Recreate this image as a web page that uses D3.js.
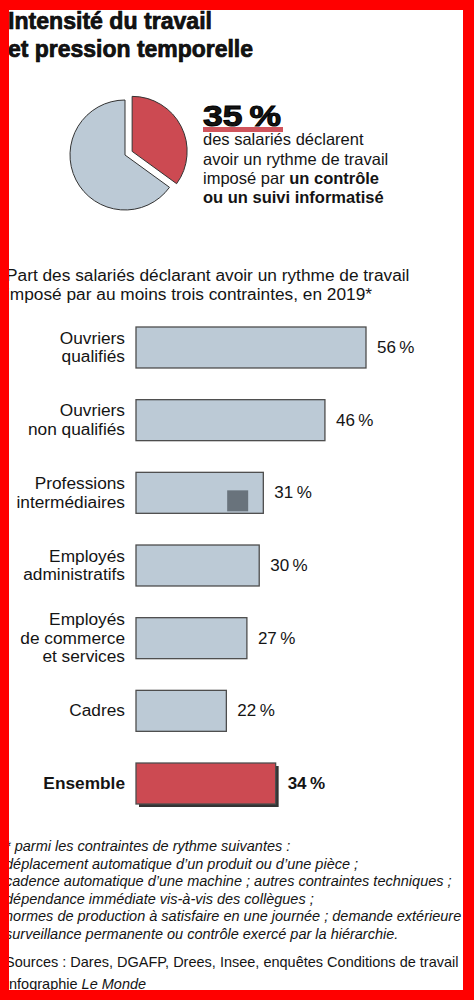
<!DOCTYPE html>
<html>
<head>
<meta charset="utf-8">
<script src="https://cdn.jsdelivr.net/npm/d3@7"></script>
<style>
  html, body { margin: 0; padding: 0; background: #fff; }
  svg { display: block; }
  text { font-family: "Liberation Sans", Arial, sans-serif; fill: #141414; }
</style>
</head>
<body>
<div id="chart"></div>
<script>
// chart data
const categories = ["Ouvriers qualifiés", "Ouvriers non qualifiés", "Professions intermédiaires",
  "Employés administratifs", "Employés de commerce et services", "Cadres", "Ensemble"]
const labelLines = [["Ouvriers", "qualifiés"], ["Ouvriers", "non qualifiés"], ["Professions", "intermédiaires"],
  ["Employés", "administratifs"], ["Employés", "de commerce", "et services"], ["Cadres"], ["Ensemble"]]
const values = [56, 46, 31, 30, 27, 22, 34]
const pieValues = [35, 65]

const titleLines = ["Intensité du travail", "et pression temporelle"]
const subtitleLines = ["Part des salariés déclarant avoir un rythme de travail",
  "imposé par au moins trois contraintes, en 2019*"]
const footnoteLines = [
  "* parmi les contraintes de rythme suivantes :",
  "déplacement automatique d’un produit ou d’une pièce ;",
  "cadence automatique d’une machine ; autres contraintes techniques ;",
  "dépendance immédiate vis-à-vis des collègues ;",
  "normes de production à satisfaire en une journée ; demande extérieure ;",
  "surveillance permanente ou contrôle exercé par la hiérarchie."
]

const width = 474, height = 1000
const red = "#cc4a52", grey = "#bccad6", edge = "#4d4d4d"

const svg = d3.select("#chart").append("svg")
  .attr("width", width)
  .attr("height", height)

svg.append("rect").attr("width", width).attr("height", height).attr("fill", "#fff")

// title
svg.append("g")
  .selectAll("text")
  .data(titleLines)
  .join("text")
  .attr("x", 8)
  .attr("y", (d, i) => 29 + i * 28)
  .attr("font-size", 24)
  .attr("font-weight", 700)
  .attr("fill", "#000")
  .attr("stroke", "#000")
  .attr("stroke-width", 0.7)
  .attr("textLength", (d, i) => i === 0 ? 204 : 245)
  .attr("lengthAdjust", "spacingAndGlyphs")
  .text(d => d)

// pie with the 35 % slice pulled out
const pie = d3.pie().sort(null).startAngle(0).endAngle(2 * Math.PI)
const arc = d3.arc().innerRadius(0).outerRadius(55)
const pieG = svg.append("g").attr("transform", "translate(125,155)")
pieG.selectAll("path")
  .data(pie(pieValues))
  .join("path")
  .attr("d", arc)
  .attr("fill", (d, i) => i === 0 ? red : grey)
  .attr("stroke", "#333")
  .attr("stroke-width", 1)
  .attr("transform", (d, i) => {
    if (i !== 0) return null
    const a = (d.startAngle + d.endAngle) / 2
    return `translate(${8 * Math.sin(a)},${-8 * Math.cos(a)})`
  })

// headline figure
svg.append("rect")
  .attr("x", 203).attr("y", 127)
  .attr("width", 80).attr("height", 5)
  .attr("fill", "#d0545c")
svg.append("text")
  .attr("x", 203).attr("y", 126)
  .attr("font-size", 30)
  .attr("font-weight", 700)
  .attr("fill", "#000")
  .attr("stroke", "#000")
  .attr("stroke-width", 1)
  .attr("textLength", 78)
  .attr("lengthAdjust", "spacingAndGlyphs")
  .text(`${pieValues[0]}\u202f%`)

const blurb = svg.append("text")
  .attr("x", 203)
  .attr("font-size", 16.5)
blurb.append("tspan").attr("x", 203).attr("y", 145).text("des salariés déclarent")
blurb.append("tspan").attr("x", 203).attr("y", 165).text("avoir un rythme de travail")
const l3 = blurb.append("tspan").attr("x", 203).attr("y", 184)
l3.append("tspan").text("imposé par ")
l3.append("tspan").attr("font-weight", 700).text("un contrôle")
blurb.append("tspan").attr("x", 203).attr("y", 203).attr("font-weight", 700).text("ou un suivi informatisé")

// subtitle
svg.append("g")
  .selectAll("text")
  .data(subtitleLines)
  .join("text")
  .attr("x", 6)
  .attr("y", (d, i) => 281 + i * 19)
  .attr("font-size", 17.3)
  .text(d => d)

// bars
const x = d3.scaleLinear().domain([0, 56]).range([136, 366])
const y = d3.scaleBand().domain(categories).range([327, 804]).paddingInner(0.436).paddingOuter(0)
const bw = y.bandwidth()
const last = categories.length - 1

const bars = svg.append("g")
  .selectAll("g")
  .data(categories)
  .join("g")

bars.filter((d, i) => i === last)
  .append("rect")
  .attr("x", x(0) + 3)
  .attr("y", d => y(d) + 3)
  .attr("width", (d, i) => x(values[last]) - x(0))
  .attr("height", bw)
  .attr("fill", "#333")

bars.append("rect")
  .attr("x", x(0))
  .attr("y", d => y(d))
  .attr("width", (d, i) => x(values[i]) - x(0))
  .attr("height", bw)
  .attr("fill", (d, i) => i === last ? red : grey)
  .attr("stroke", edge)
  .attr("stroke-width", 1.3)

// grey square seen on the third bar
svg.append("rect")
  .attr("x", x(22.2)).attr("y", y(categories[2]) + 18)
  .attr("width", 21).attr("height", 21)
  .attr("fill", "#69737c")

// category labels
bars.append("text")
  .attr("text-anchor", "end")
  .attr("font-size", 17.3)
  .attr("font-weight", (d, i) => i === last ? 700 : 400)
  .each(function (d, i) {
    const lines = labelLines[i]
    const c = y(d) + bw / 2
    d3.select(this).selectAll("tspan")
      .data(lines)
      .join("tspan")
      .attr("x", 125)
      .attr("y", (t, j) => c + 5.5 + (j - (lines.length - 1) / 2) * 18.5)
      .text(t => t)
  })

// value labels
bars.append("text")
  .attr("x", (d, i) => x(values[i]) + (i === last ? 12 : 11))
  .attr("y", d => y(d) + bw / 2 + 5.5)
  .attr("font-size", 17)
  .attr("font-weight", (d, i) => i === last ? 700 : 400)
  .text((d, i) => `${values[i]}\u202f%`)

// footnotes
svg.append("g")
  .selectAll("text")
  .data(footnoteLines)
  .join("text")
  .attr("x", 5)
  .attr("y", (d, i) => 851 + i * 17.6)
  .attr("font-size", 14.5)
  .attr("font-style", "italic")
  .attr("fill", "#222")
  .text(d => d)

svg.append("text")
  .attr("x", 5).attr("y", 967)
  .attr("font-size", 14.5)
  .attr("fill", "#222")
  .text("Sources : Dares, DGAFP, Drees, Insee, enquêtes Conditions de travail")

const credit = svg.append("text")
  .attr("x", 5).attr("y", 989)
  .attr("font-size", 14.5)
  .attr("fill", "#222")
credit.append("tspan").text("Infographie ")
credit.append("tspan").attr("font-style", "italic").text("Le Monde")

// red frame
const frame = svg.append("g").attr("fill", "#ff0000")
frame.append("rect").attr("x", 0).attr("y", 0).attr("width", 9).attr("height", height)
frame.append("rect").attr("x", 0).attr("y", 0).attr("width", width).attr("height", 10)
frame.append("rect").attr("x", 463).attr("y", 0).attr("width", 11).attr("height", height)
frame.append("rect").attr("x", 0).attr("y", 990).attr("width", width).attr("height", 10)
</script>
</body>
</html>
